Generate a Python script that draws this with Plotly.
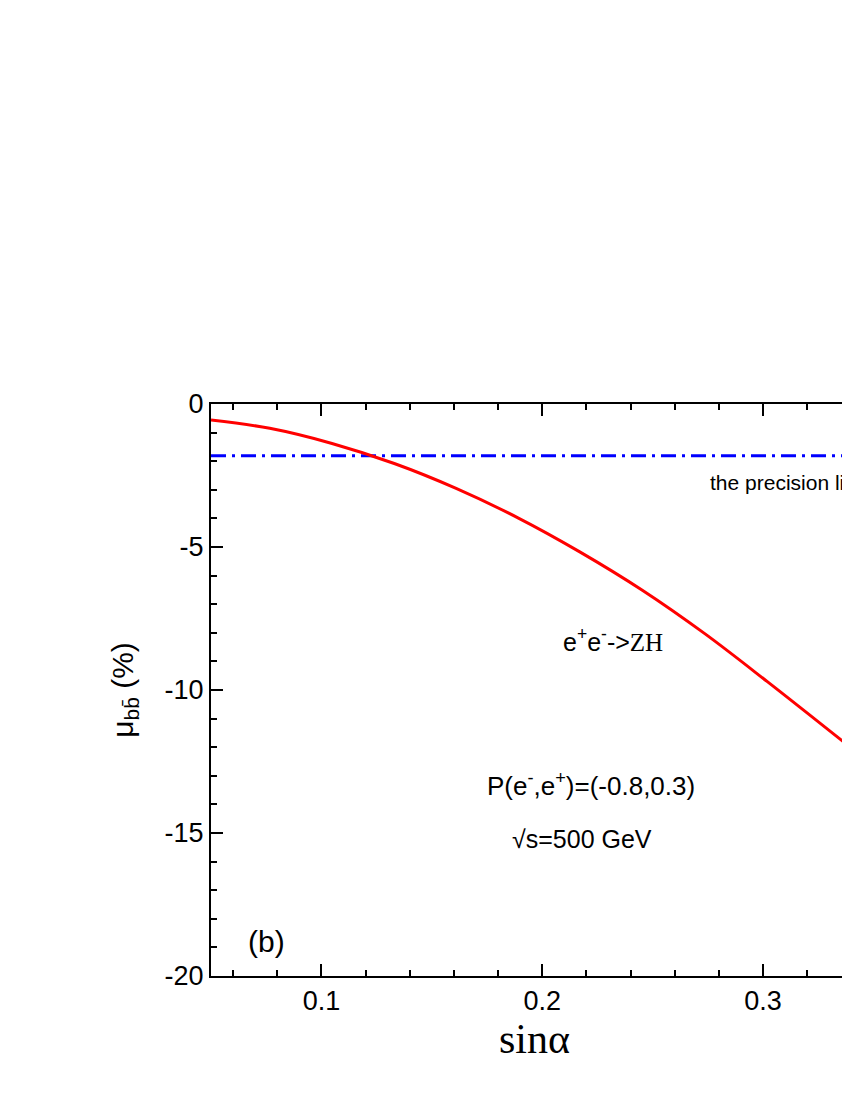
import plotly.graph_objects as go

# curve
sin_alpha = [0.05, 0.0766, 0.1048, 0.133, 0.161, 0.189, 0.217, 0.2455, 0.2736, 0.3018, 0.3427]
mu_bb = [-0.56, -0.85, -1.38, -2.08, -2.95, -3.98, -5.17, -6.52, -8.03, -9.70, -12.2]

precision_x = [0.05, 0.36]
precision_y = [-1.81, -1.81]

x_ticks = [0.1, 0.2, 0.3]
x_labels = ["0.1", "0.2", "0.3"]
y_ticks = [0, -5, -10, -15, -20]
y_labels = ["0", "-5", "-10", "-15", "-20"]

FONT = "Liberation Sans, Arial, sans-serif"
SERIF = "Liberation Serif, Times New Roman, serif"

fig = go.Figure()

fig.add_trace(go.Scatter(
    x=precision_x, y=precision_y, mode="lines",
    line=dict(color="blue", width=3, dash="15px,6px,3px,6px"),
    showlegend=False,
))
fig.add_trace(go.Scatter(
    x=sin_alpha, y=mu_bb, mode="lines", line_shape="spline",
    line=dict(color="red", width=3),
    showlegend=False,
))

annots = [
    dict(x=0.275, y=-2.75, text="the precision limit", xanchor="left", font=dict(size=21)),
    dict(x=0.232, y=-8.25, text="e<sup>+</sup>e<sup>-</sup>-><span style='font-family:Liberation Serif'>ZH</span>",
         font=dict(size=25)),
    dict(x=0.222, y=-13.3, text="P(e<sup>-</sup>,e<sup>+</sup>)=(-0.8,0.3)", font=dict(size=26)),
    dict(x=0.218, y=-15.2, text="\u221as=500 GeV", font=dict(size=25)),
    dict(x=0.075, y=-18.8, text="(b)", font=dict(size=30)),
]
for a in annots:
    fig.add_annotation(showarrow=False, xref="x", yref="y",
                       font_family=FONT, font_color="black", **a)

fig.update_layout(
    width=850, height=1100,
    margin=dict(l=203, r=0, t=396, b=132),
    plot_bgcolor="white", paper_bgcolor="white",
    font=dict(family=FONT, size=27, color="black"),
)
fig.update_xaxes(
    range=[0.05, 0.343], tickvals=x_ticks, ticktext=x_labels,
    showgrid=False, zeroline=False, showline=True, linecolor="black", linewidth=2,
    ticks="inside", ticklen=12, tickwidth=2, tickcolor="black", mirror="allticks",
    minor=dict(dtick=0.02, tick0=0.0, ticks="inside", ticklen=6, tickwidth=2, tickcolor="black"),
    title=dict(text="sin\u03b1", font=dict(family=SERIF, size=42), standoff=8),
)
fig.update_yaxes(
    range=[-20, 0], tickvals=y_ticks, ticktext=y_labels,
    showgrid=False, zeroline=False, showline=True, linecolor="black", linewidth=2,
    ticks="inside", ticklen=12, tickwidth=2, tickcolor="black",
    minor=dict(dtick=1, ticks="inside", ticklen=6, tickwidth=2, tickcolor="black"),
    title=dict(text="\u03bc<sub>bb\u0304</sub> (%)", font=dict(size=30), standoff=22),
)

fig.write_html("out.html")
